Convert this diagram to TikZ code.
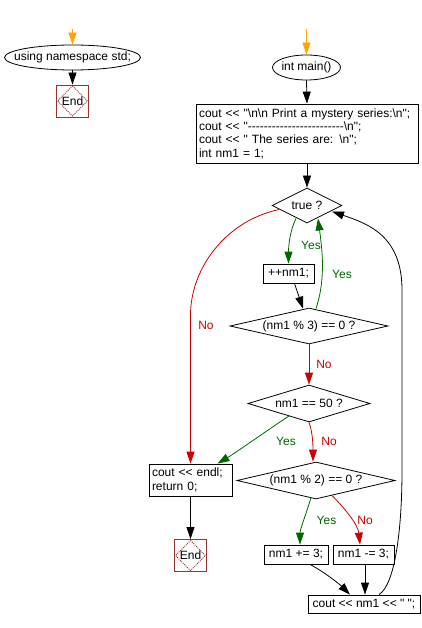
\documentclass[tikz,border=0pt]{standalone}
\usepackage{fontspec}
\setmainfont{Liberation Sans}[Ligatures=TeXOff]
\usetikzlibrary{arrows.meta,shapes.geometric,calc}
\definecolor{lorange}{HTML}{FFA500}
\definecolor{lred}{HTML}{CC0000}
\definecolor{lgreen}{HTML}{006600}
\definecolor{endred}{HTML}{993333}
\begin{document}
\begin{tikzpicture}[x=1pt,y=-1pt,
  every node/.style={font=\fontsize{12}{13.3}\selectfont, inner sep=0pt},
  base/.style={draw=black, line width=0.8pt},
  oval/.style={base, ellipse},
  box/.style={base, rectangle},
  dec/.style={base, diamond},
  endbox/.style={draw=endred, line width=0.9pt, rectangle, minimum width=32pt, minimum height=32pt},
  endmark/.style={draw=endred, dash pattern=on 1pt off 1pt, line width=0.9pt},
  flow/.style={line width=0.8pt, -{Triangle[length=12pt,width=8pt]}},
  yestxt/.style={text=lgreen},
  notxt/.style={text=lred}
]
\useasboundingbox (0,0) rectangle (422,628);
% start points
\coordinate (s1) at (72.5,29);
\coordinate (s2) at (306.5,29);
% left part
\node[oval, minimum width=136pt, minimum height=25pt] (ns) at (72.5,57.5) {\makebox[0pt]{using namespace std;}};
\node[endbox] (end1) at (72.5,101) {End};
\draw[endmark] ($(end1.north)+(0,1.5)$) -- ($(end1.east)+(-1.5,0)$) -- ($(end1.south)+(0,-1.5)$) -- ($(end1.west)+(1.5,0)$) -- cycle;
% main part
\node[oval, minimum width=68pt, minimum height=25pt] (main) at (306.5,67.5) {\makebox[0pt]{int main()}};
\node[box, text width=216pt, inner xsep=3pt, minimum height=59pt, align=left] (init) at (307,133.5)
 {cout << "\textbackslash n\textbackslash n Print a mystery series:\textbackslash n";\\
  cout << "------------------------\textbackslash n";\\
  cout << " The series are: \textbackslash n";\\
  int nm1 = 1;};
\node[dec, minimum width=70pt, minimum height=35pt] (t) at (307,205.5) {\makebox[0pt]{true ?}};
\node[box, minimum width=51pt, minimum height=19pt] (inc) at (288.5,273.5) {++nm1;};
\node[dec, minimum width=158pt, minimum height=36pt] (m3) at (309,326) {\makebox[0pt]{(nm1 \% 3) == 0 ?}};
\node[dec, minimum width=122pt, minimum height=37pt] (e50) at (309,403.5) {\makebox[0pt]{nm1 == 50 ?}};
\node[box, text width=77pt, inner xsep=3pt, minimum height=32pt, align=left] (endl) at (190.5,480)
 {cout << endl;\\ return 0;};
\node[dec, minimum width=158pt, minimum height=37pt] (m2) at (316,480.5) {\makebox[0pt]{(nm1 \% 2) == 0 ?}};
\node[endbox] (end2) at (190.5,555.5) {End};
\draw[endmark] ($(end2.north)+(0,1.5)$) -- ($(end2.east)+(-1.5,0)$) -- ($(end2.south)+(0,-1.5)$) -- ($(end2.west)+(1.5,0)$) -- cycle;
\node[box, minimum width=64pt, minimum height=19pt] (add) at (296,554.5) {nm1 += 3;};
\node[box, minimum width=61pt, minimum height=19pt] (sub) at (363.5,554.5) {nm1 -= 3;};
\node[box, minimum width=112pt, minimum height=18pt] (out) at (364,604) {cout << nm1 << " ";};
% helper coordinates
\coordinate (rb) at (190.5,315);
\coordinate (lb) at (402,470);
\coordinate (lt) at (402,290);
% connectors
\draw[flow, lorange] (s1) -- (ns.north);
\draw[flow] (ns.south) -- (end1.north);
\draw[flow, lorange] (s2) -- (main.north);
\draw[flow] (main.south) -- (init.north);
\draw[flow] (init.south) -- (t.north);
\draw[flow, lgreen] ($(t)+(-11,13)$) .. controls +(-6,12) and +(0,-18) .. (inc.north);
\draw[flow] ($(inc.south)+(6,0)$) -- ($(m3.north)+(-6,1)$);
\draw[flow, lgreen] ($(m3.north)+(7,1)$) .. controls +(10,-30) and +(4,30) .. ($(t)+(11,13)$);
\draw[flow, lred] ($(t)+(-28,4)$) .. controls +(-55,12) and +(0,-45) .. (rb) -- (endl.north);
\draw[flow, lred] (m3.south) -- (e50.north);
\draw[flow, lgreen] ($(e50)+(-20,12.5)$) .. controls +(-20,13) and +(20,-12) .. ($(endl.north)+(27,0)$);
\draw[flow, lred] (e50.south) .. controls +(3,8) and +(0,-20) .. ($(m2.north)+(-3,0)$);
\draw[flow] (endl.south) -- (end2.north);
\draw[flow, lgreen] ($(m2)+(-5,17)$) .. controls +(-4,14) and +(0,-15) .. ($(add.north)+(4,0)$);
\draw[flow, lred] ($(m2)+(16,15)$) .. controls +(12,12) and +(-2,-20) .. ($(sub.north)+(-3.5,0)$);
\draw[flow] ($(add.south)+(14,0)$) .. controls +(15,8) and +(-10,-10) .. ($(out.north)+(-14,0)$);
\draw[flow] ($(sub.south)+(1.5,0)$) -- ($(out.north)+(1,0)$);
\draw[flow] ($(out.north)+(15,0)$) .. controls +(16,-10) and +(0,60) .. (lb) -- (lt) .. controls +(0,-55) and +(35,12) .. ($(t)+(25,6)$);
% labels
\node[yestxt] (l1) at (311,245) {Yes};
\node[yestxt] (l2) at (342,274) {Yes};
\node[notxt] (l3) at (206,325.5) {No};
\node[notxt] (l4) at (324,364.5) {No};
\node[yestxt] (l5) at (286,441.5) {Yes};
\node[notxt] (l6) at (329,441.5) {No};
\node[yestxt] (l7) at (326.5,520) {Yes};
\node[notxt] (l8) at (365,520) {No};
\end{tikzpicture}
\end{document}
